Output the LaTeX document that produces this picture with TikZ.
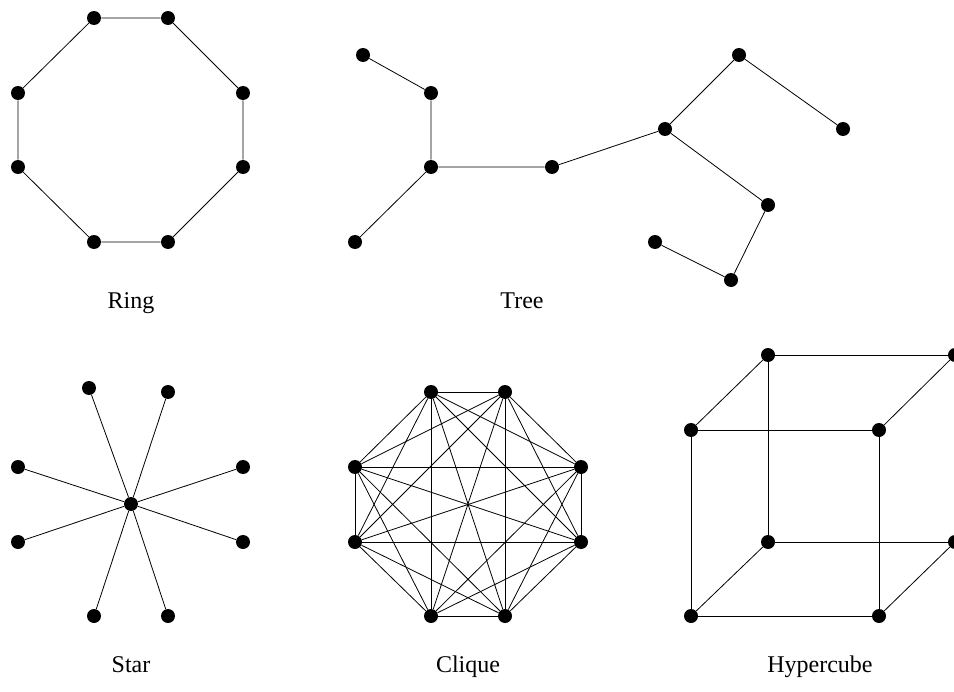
\documentclass[tikz,border=0pt]{standalone}
\usepackage{fontspec}
\setmainfont{Liberation Serif}
\begin{document}
\begin{tikzpicture}[x=0.75pt,y=-0.75pt,
  vtx/.style={circle,fill=black,inner sep=0pt,minimum size=10.5pt},
  edge/.style={line width=0.6pt},
  lbl/.style={font=\fontsize{18}{22}\selectfont,anchor=base}]
\useasboundingbox (0,0) rectangle (954,692);
% Ring
\node[vtx] (r1) at (94,18) {};
\node[vtx] (r2) at (168,18) {};
\node[vtx] (r3) at (243,93) {};
\node[vtx] (r4) at (243,167) {};
\node[vtx] (r5) at (168,242) {};
\node[vtx] (r6) at (94,242) {};
\node[vtx] (r7) at (18,167) {};
\node[vtx] (r8) at (18,93) {};
\draw[edge] (r1)--(r2)--(r3)--(r4)--(r5)--(r6)--(r7)--(r8)--(r1);
\node[lbl] (ringlbl) at (131,308) {Ring};
% Tree
\node[vtx] (t1) at (363,55) {};
\node[vtx] (t2) at (431,93) {};
\node[vtx] (t3) at (431,167) {};
\node[vtx] (t4) at (355,242) {};
\node[vtx] (t5) at (552,167) {};
\node[vtx] (t6) at (665,129) {};
\node[vtx] (t7) at (739,55) {};
\node[vtx] (t8) at (843,129) {};
\node[vtx] (t9) at (768,205) {};
\node[vtx] (t10) at (731,280) {};
\node[vtx] (t11) at (655,242) {};
\draw[edge] (t1)--(t2)--(t3)--(t4);
\draw[edge] (t3)--(t5)--(t6)--(t7)--(t8);
\draw[edge] (t6)--(t9)--(t10)--(t11);
\node[lbl] (treelbl) at (522,308) {Tree};
% Star
\node[vtx] (s0) at (131,504) {};
\node[vtx] (s1) at (89,388) {};
\node[vtx] (s2) at (168,392) {};
\node[vtx] (s3) at (243,467) {};
\node[vtx] (s4) at (243,542) {};
\node[vtx] (s5) at (168,616) {};
\node[vtx] (s6) at (94,616) {};
\node[vtx] (s7) at (18,542) {};
\node[vtx] (s8) at (18,467) {};
\foreach \i in {1,...,8} \draw[edge] (s0)--(s\i);
\node[lbl] (starlbl) at (131,672) {Star};
% Clique
\node[vtx] (c1) at (431,392) {};
\node[vtx] (c2) at (505,392) {};
\node[vtx] (c3) at (581,467) {};
\node[vtx] (c4) at (581,542) {};
\node[vtx] (c5) at (505,616) {};
\node[vtx] (c6) at (431,616) {};
\node[vtx] (c7) at (355,542) {};
\node[vtx] (c8) at (355,467) {};
\foreach \i in {1,...,7} {
  \pgfmathtruncatemacro\nxt{\i+1}
  \foreach \j in {\nxt,...,8} \draw[edge] (c\i)--(c\j);
}
\node[lbl] (cliquelbl) at (468,672) {Clique};
% Hypercube
\node[vtx] (h1) at (768,355) {};
\node[vtx] (h2) at (955,355) {};
\node[vtx] (h3) at (691,430) {};
\node[vtx] (h4) at (879,430) {};
\node[vtx] (h5) at (768,542) {};
\node[vtx] (h6) at (955,542) {};
\node[vtx] (h7) at (691,616) {};
\node[vtx] (h8) at (879,616) {};
\draw[edge] (h3)--(h4)--(h8)--(h7)--(h3);
\draw[edge] (h1)--(h2)--(h6)--(h5)--(h1);
\draw[edge] (h3)--(h1) (h4)--(h2) (h7)--(h5) (h8)--(h6);
\node[lbl] (hyperlbl) at (820,672) {Hypercube};
\end{tikzpicture}
\end{document}
